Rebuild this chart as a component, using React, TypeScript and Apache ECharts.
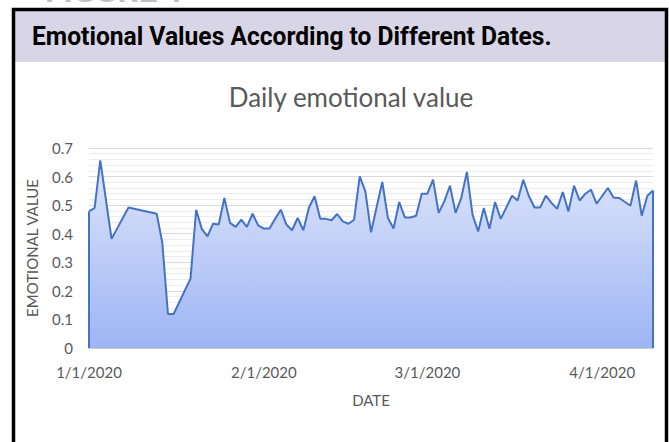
import React, { useEffect, useRef } from "react";
import * as echarts from "echarts";

const DATES: string[] = [
  "2020-01-01", "2020-01-02", "2020-01-03", "2020-01-05", "2020-01-08", "2020-01-13",
  "2020-01-14", "2020-01-15", "2020-01-16", "2020-01-19", "2020-01-20", "2020-01-21",
  "2020-01-22", "2020-01-23", "2020-01-24", "2020-01-25", "2020-01-26", "2020-01-27",
  "2020-01-28", "2020-01-29", "2020-01-30", "2020-01-31", "2020-02-01", "2020-02-02",
  "2020-02-03", "2020-02-04", "2020-02-05", "2020-02-06", "2020-02-07", "2020-02-08",
  "2020-02-09", "2020-02-10", "2020-02-11", "2020-02-12", "2020-02-13", "2020-02-14",
  "2020-02-15", "2020-02-16", "2020-02-17", "2020-02-18", "2020-02-19", "2020-02-20",
  "2020-02-22", "2020-02-23", "2020-02-24", "2020-02-25", "2020-02-26", "2020-02-27",
  "2020-02-28", "2020-02-29", "2020-03-01", "2020-03-02", "2020-03-03", "2020-03-04",
  "2020-03-05", "2020-03-06", "2020-03-07", "2020-03-08", "2020-03-09", "2020-03-10",
  "2020-03-11", "2020-03-12", "2020-03-13", "2020-03-14", "2020-03-15", "2020-03-16",
  "2020-03-17", "2020-03-18", "2020-03-19", "2020-03-20", "2020-03-21", "2020-03-22",
  "2020-03-23", "2020-03-24", "2020-03-25", "2020-03-26", "2020-03-27", "2020-03-28",
  "2020-03-29", "2020-03-30", "2020-03-31", "2020-04-02", "2020-04-03", "2020-04-04",
  "2020-04-06", "2020-04-07", "2020-04-08", "2020-04-09", "2020-04-10",
];

const VALUES: number[] = [
  0.478, 0.49, 0.657, 0.382, 0.492, 0.47,
  0.368, 0.119, 0.119, 0.243, 0.484, 0.417,
  0.391, 0.435, 0.432, 0.525, 0.438, 0.424,
  0.449, 0.424, 0.47, 0.429, 0.418, 0.418,
  0.452, 0.484, 0.432, 0.412, 0.455, 0.412,
  0.492, 0.531, 0.452, 0.452, 0.447, 0.469,
  0.443, 0.435, 0.449, 0.601, 0.548, 0.405,
  0.581, 0.455, 0.418, 0.511, 0.457, 0.457,
  0.463, 0.54, 0.54, 0.589, 0.473, 0.513,
  0.568, 0.473, 0.525, 0.616, 0.467, 0.408,
  0.49, 0.417, 0.511, 0.452, 0.492, 0.533,
  0.516, 0.589, 0.531, 0.492, 0.492, 0.533,
  0.508, 0.487, 0.546, 0.478, 0.568, 0.516,
  0.54, 0.554, 0.505, 0.56, 0.527, 0.525,
  0.498, 0.586, 0.463, 0.533, 0.551,
];

const MONTH_TICKS: string[] = ["2020-01-01", "2020-02-01", "2020-03-01", "2020-04-01"];
const AXIS_MIN = "2020-01-01";
const AXIS_MAX = "2020-04-10";

const FIGURE_LABEL = "FIGURE 1";
const HEADER_TITLE = "Emotional Values According to Different Dates.";
const CHART_TITLE = "Daily emotional value";
const Y_NAME = "EMOTIONAL VALUE";
const X_NAME = "DATE";

function toTs(s: string): number {
  const [y, m, d] = s.split("-").map(Number);
  return new Date(y, m - 1, d).getTime();
}

function measure(text: string, font: string): number {
  const c = document.createElement("canvas");
  const ctx = c.getContext("2d");
  if (!ctx) return 600;
  ctx.font = font;
  return ctx.measureText(text).width;
}

export default function App() {
  const ref = useRef<HTMLDivElement>(null);
  useEffect(() => {
    if (!ref.current) return;
    const chart = echarts.init(ref.current, null, { renderer: "svg" });
    const data = DATES.map((d, i) => [toTs(d), VALUES[i]]);
    const first = data[0];
    const last = data[data.length - 1];
    const headerFont = "bold 25px Roboto";
    const headerW = measure(HEADER_TITLE, headerFont);
    const headerScale = 520 / headerW;
    const figFont = "bold 28px Roboto";
    const figW = measure(FIGURE_LABEL, figFont);
    const figScale = 140 / figW;
    const textColor = "#595959";
    const font = "Lato";

    chart.setOption({
      animation: false,
      backgroundColor: "#ffffff",
      graphic: [
        {
          type: "text",
          x: 45,
          y: 6,
          scaleX: figScale,
          style: {
            text: FIGURE_LABEL,
            font: figFont,
            fill: "#bfbfbf",
            textAlign: "left",
            textVerticalAlign: "bottom",
          },
        },
        {
          type: "rect",
          shape: { x: 15, y: 11, width: 650, height: 51 },
          style: { fill: "#d8d6e6" },
        },
        {
          type: "rect",
          shape: { x: 13.5, y: 9.5, width: 653, height: 600 },
          style: { fill: "none", stroke: "#000000", lineWidth: 3.5 },
        },
        {
          type: "text",
          x: 32,
          y: 36,
          scaleX: headerScale,
          style: {
            text: HEADER_TITLE,
            font: headerFont,
            fill: "#000000",
            textAlign: "left",
            textVerticalAlign: "middle",
          },
        },
        {
          type: "text",
          x: 351,
          y: 97,
          style: {
            text: CHART_TITLE,
            font: "26px Lato",
            fill: textColor,
            textAlign: "center",
            textVerticalAlign: "middle",
          },
        },
      ],
      grid: { left: 89, right: 16, top: 148, bottom: 94 },
      xAxis: {
        type: "value",
        min: toTs(AXIS_MIN),
        max: toTs(AXIS_MAX),
        name: X_NAME,
        nameLocation: "middle",
        nameGap: 44,
        nameTextStyle: { color: textColor, fontFamily: font, fontSize: 15 },
        axisLine: { show: true, lineStyle: { color: "#c8c8c8", width: 1 } },
        axisTick: { show: false },
        splitLine: { show: false },
        axisLabel: {
          customValues: MONTH_TICKS.map(toTs),
          color: textColor,
          fontFamily: font,
          fontSize: 15,
          margin: 16,
          showMinLabel: true,
          showMaxLabel: true,
          hideOverlap: false,
          formatter: (v: number) => {
            const d = new Date(v);
            return `${d.getMonth() + 1}/${d.getDate()}/${d.getFullYear()}`;
          },
        },
      },
      yAxis: {
        type: "value",
        min: 0,
        max: 0.7,
        interval: 0.1,
        name: Y_NAME,
        nameLocation: "middle",
        nameRotate: 90,
        nameGap: 50,
        nameTextStyle: { color: textColor, fontFamily: font, fontSize: 15 },
        axisLine: { show: false },
        axisTick: { show: false },
        axisLabel: {
          color: textColor,
          fontFamily: font,
          fontSize: 15,
          margin: 16,
          formatter: (v: number) => (v === 0 ? "0" : v.toFixed(1)),
        },
        splitLine: { show: true, lineStyle: { color: "#d9d9d9", width: 1 } },
        minorTick: { show: false, splitNumber: 5 },
        minorSplitLine: { show: true, lineStyle: { color: "#ececec", width: 1 } },
      },
      series: [
        {
          type: "line",
          data,
          symbol: "none",
          lineStyle: { color: "#4472c4", width: 2 },
          itemStyle: { color: "#4472c4" },
          areaStyle: {
            color: new echarts.graphic.LinearGradient(0, 0, 0, 1, [
              { offset: 0, color: "#dfe6fb" },
              { offset: 1, color: "#9db5f4" },
            ]),
            opacity: 1,
          },
          markLine: {
            silent: true,
            symbol: "none",
            label: { show: false },
            lineStyle: { color: "#4472c4", width: 2, type: "solid" },
            data: [
              [{ coord: [first[0], 0] }, { coord: [first[0], first[1]] }],
              [{ coord: [last[0], 0] }, { coord: [last[0], last[1]] }],
            ],
          },
        },
      ],
    });
    return () => chart.dispose();
  }, []);
  return (
    <div
      ref={ref}
      style={{ position: "absolute", left: 0, top: 0, width: 669, height: 442 }}
    />
  );
}
